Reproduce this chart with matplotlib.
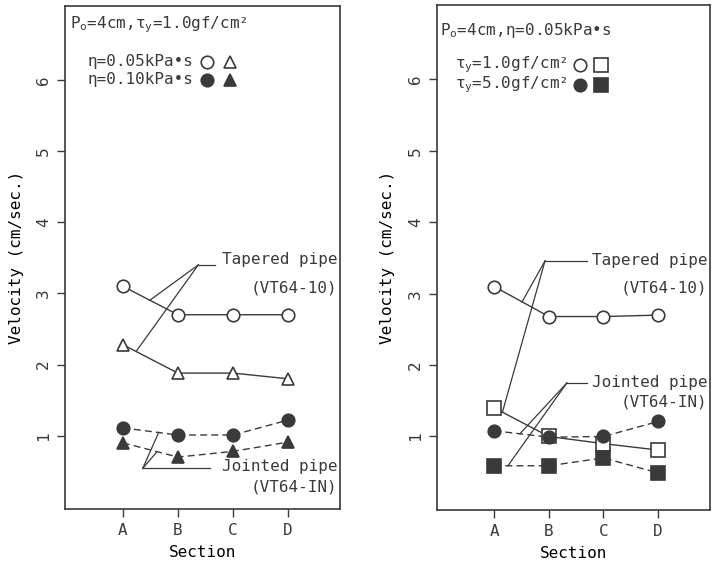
import numpy as np
import matplotlib
matplotlib.use('Agg')
import matplotlib.pyplot as plt


sections = ['A', 'B', 'C', 'D']

# left panel: Po=4cm, tau_y=1.0gf/cm2
taper_eta005 = [3.1, 2.7, 2.7, 2.7]
taper_eta010 = [2.28, 1.88, 1.88, 1.8]
joint_eta005 = [1.11, 1.01, 1.01, 1.22]
joint_eta010 = [0.9, 0.7, 0.78, 0.91]

# right panel: Po=4cm, eta=0.05kPa*s
taper_tau1 = [3.1, 2.68, 2.68, 2.7]
taper_tau5 = [1.4, 1.0, 0.9, 0.81]
joint_tau1 = [1.08, 0.99, 1.0, 1.21]
joint_tau5 = [0.59, 0.59, 0.7, 0.49]

y_ticks = [1, 2, 3, 4, 5, 6]

INK = '#3a3a3a'
FONT = 'DejaVu Sans Mono'
FS = 11.5

plt.rcParams['font.family'] = FONT
plt.rcParams['mathtext.fontset'] = 'custom'
plt.rcParams['mathtext.rm'] = FONT
plt.rcParams['mathtext.it'] = FONT
plt.rcParams['mathtext.default'] = 'regular'
plt.rcParams['text.color'] = INK
plt.rcParams['axes.edgecolor'] = INK
plt.rcParams['xtick.color'] = INK
plt.rcParams['ytick.color'] = INK


def on_line(xs, ys, x):
    return float(np.interp(x, xs, ys))


def setup_axes(ax):
    ax.set_xlim(-0.05, 4.95)
    ax.set_ylim(-0.03, 7.04)
    ax.set_xticks(range(1, 5))
    ax.set_xticklabels(sections, fontsize=FS)
    ax.set_yticks(y_ticks)
    ax.set_yticklabels([str(t) for t in y_ticks], fontsize=FS, rotation=90,
                       va='center')
    ax.tick_params(axis='both', length=6, width=1.0, pad=4)
    for s in ax.spines.values():
        s.set_linewidth(1.2)
    ax.set_xlabel('Section', fontsize=FS, labelpad=5)
    ax.set_ylabel('Velocity (cm/sec.)', fontsize=FS, labelpad=9)


def series(ax, ys, marker, filled, dashed, ms=9):
    xs = np.arange(1, 5)
    ax.plot(xs, ys, color=INK, lw=1.0,
            ls=(0, (5, 3)) if dashed else '-',
            marker=marker, ms=ms, mew=1.2, mec=INK,
            mfc=INK if filled else 'white', zorder=3)


def leader(ax, hub, hub_end, targets):
    ax.plot([hub[0], hub_end], [hub[1], hub[1]], color=INK, lw=0.9, zorder=2)
    for tx, ty in targets:
        ax.plot([hub[0], tx], [hub[1], ty], color=INK, lw=0.9, zorder=2)


def legend_marker(ax, x, y, marker, filled, ms=9):
    ax.plot([x], [y], transform=ax.transAxes, marker=marker, ms=ms, mew=1.2,
            mec=INK, mfc=INK if filled else 'white', ls='none', clip_on=False)


fig = plt.figure(figsize=(7.15, 5.64), dpi=100)
ax1 = fig.add_axes([0.091, 0.0975, 0.385, 0.892])
ax2 = fig.add_axes([0.611, 0.0957, 0.382, 0.895])
xs = np.arange(1, 5)

# ---- left panel
setup_axes(ax1)
series(ax1, taper_eta005, 'o', False, False)
series(ax1, taper_eta010, '^', False, False)
series(ax1, joint_eta005, 'o', True, True)
series(ax1, joint_eta010, '^', True, True)

leader(ax1, (2.37, 3.40), 2.67,
       [(1.49, on_line(xs, taper_eta005, 1.49)),
        (1.24, on_line(xs, taper_eta010, 1.24))])
ax1.text(4.9, 3.48, 'Tapered pipe', fontsize=FS, ha='right', va='center')
ax1.text(4.9, 3.08, '(VT64-10)', fontsize=FS, ha='right', va='center')

leader(ax1, (1.36, 0.54), 2.58,
       [(1.65, on_line(xs, joint_eta005, 1.65)),
        (1.62, on_line(xs, joint_eta010, 1.62))])
ax1.text(4.9, 0.57, 'Jointed pipe', fontsize=FS, ha='right', va='center')
ax1.text(4.9, 0.28, '(VT64-IN)', fontsize=FS, ha='right', va='center')

ax1.text(0.018, 0.962, 'P$_o$=4cm,τ$_y$=1.0gf/cm²', fontsize=FS,
         transform=ax1.transAxes, ha='left', va='center')
ax1.text(0.08, 0.889, 'η=0.05kPa•s', fontsize=FS, transform=ax1.transAxes,
         ha='left', va='center')
ax1.text(0.08, 0.853, 'η=0.10kPa•s', fontsize=FS, transform=ax1.transAxes,
         ha='left', va='center')
legend_marker(ax1, 0.516, 0.889, 'o', False)
legend_marker(ax1, 0.600, 0.889, '^', False)
legend_marker(ax1, 0.516, 0.853, 'o', True)
legend_marker(ax1, 0.600, 0.853, '^', True)

# ---- right panel
setup_axes(ax2)
series(ax2, taper_tau1, 'o', False, False)
series(ax2, taper_tau5, 's', False, False, ms=10)
series(ax2, joint_tau1, 'o', True, True)
series(ax2, joint_tau5, 's', True, True, ms=10)

leader(ax2, (1.93, 3.46), 2.69,
       [(1.51, on_line(xs, taper_tau1, 1.51)),
        (1.15, on_line(xs, taper_tau5, 1.15))])
ax2.text(4.9, 3.46, 'Tapered pipe', fontsize=FS, ha='right', va='center')
ax2.text(4.9, 3.08, '(VT64-10)', fontsize=FS, ha='right', va='center')

leader(ax2, (2.33, 1.75), 2.69,
       [(1.47, on_line(xs, joint_tau1, 1.47)),
        (1.25, on_line(xs, joint_tau5, 1.25))])
ax2.text(4.9, 1.75, 'Jointed pipe', fontsize=FS, ha='right', va='center')
ax2.text(4.9, 1.48, '(VT64-IN)', fontsize=FS, ha='right', va='center')

ax2.text(0.01, 0.95, 'P$_o$=4cm,η=0.05kPa•s', fontsize=FS,
         transform=ax2.transAxes, ha='left', va='center')
ax2.text(0.066, 0.883, 'τ$_y$=1.0gf/cm²', fontsize=FS,
         transform=ax2.transAxes, ha='left', va='center')
ax2.text(0.066, 0.842, 'τ$_y$=5.0gf/cm²', fontsize=FS,
         transform=ax2.transAxes, ha='left', va='center')
legend_marker(ax2, 0.524, 0.881, 'o', False)
legend_marker(ax2, 0.600, 0.881, 's', False, ms=10)
legend_marker(ax2, 0.524, 0.842, 'o', True)
legend_marker(ax2, 0.600, 0.842, 's', True, ms=10)

fig.savefig('out.png', dpi=100)
